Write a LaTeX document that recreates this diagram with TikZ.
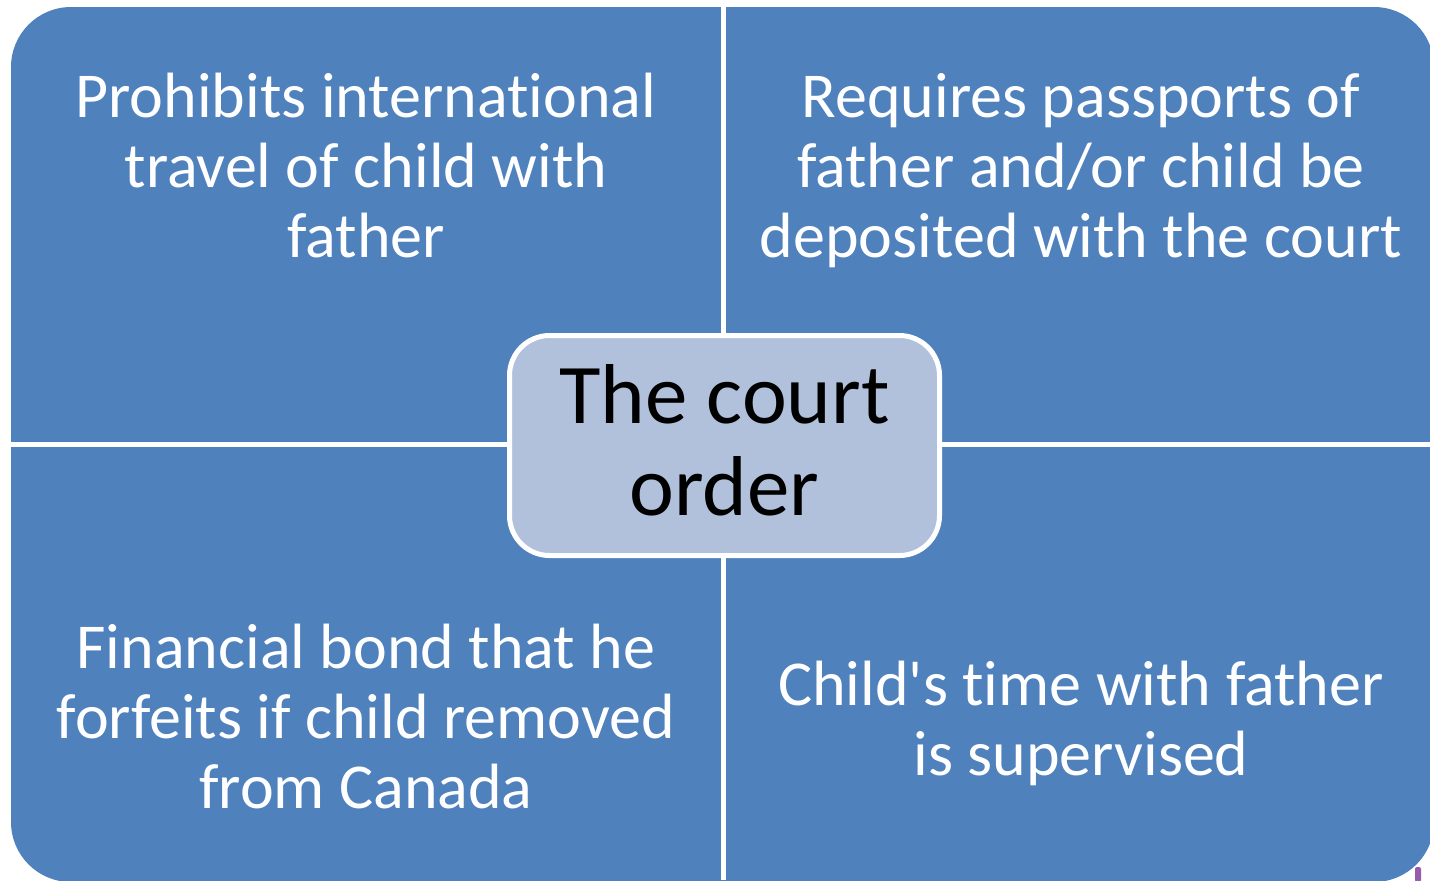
\documentclass[tikz,border=0pt]{standalone}
\usepackage{fontspec}
\setmainfont{Carlito}[Ligatures=NoCommon]
\definecolor{quadblue}{RGB}{79,129,189}
\definecolor{hubblue}{RGB}{177,193,220}
\definecolor{markpurple}{RGB}{150,92,170}
\tikzset{
    quadtext/.style={white, align=center, anchor=base, inner sep=0pt, font=\fontsize{32}{35}\selectfont},
    hubbox/.style={draw=white, line width=2.5pt, fill=hubblue, rounded corners=20pt, minimum width=215pt, minimum height=110pt, inner sep=0pt},
}

\begin{document}
\begin{tikzpicture}[x=0.5pt, y=-0.5pt]
    \useasboundingbox (0,0) rectangle (1430,880);
    \fill[quadblue, rounded corners=30pt] (11,7) rectangle (1434,882); %matrix
    \draw[white, line width=2.5pt] (723.5,0) -- (723.5,880); %gaps
    \draw[white, line width=2.5pt] (0,444.5) -- (1434,444.5);

    % base anchor sits on the last line
    \node[quadtext] (travel) at (366,257) {Prohibits international\\travel of child with\\father};
    \node[quadtext] (passports) at (1081,257) {Requires passports of\\father and/or child be\\deposited with the court};
    \node[quadtext] (bond) at (366,808) {Financial bond that he\\forfeits if child removed\\from Canada};
    \node[quadtext] (supervised) at (1081,775) {Child\textquotesingle s time with father\\is supervised};

    \node[hubbox] (order) at (724.5,445.5) {};
    \node[black, align=center, anchor=base, inner sep=0pt, font=\fontsize{42.5}{46}\selectfont] (ordertext) at (724.5,515) {The court\\order};

    \fill[markpurple, rounded corners=1pt] (1415,867) rectangle (1421,882); %cut off mark
\end{tikzpicture}
\end{document}
